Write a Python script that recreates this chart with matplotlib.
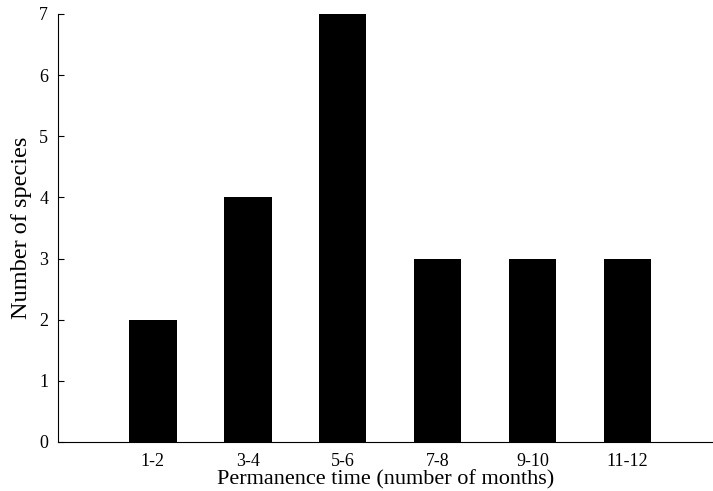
import matplotlib
matplotlib.use('Agg')
import matplotlib.pyplot as plt
import numpy as np

plt.rcParams['font.family'] = ['Liberation Serif', 'DejaVu Serif']

# permanence classes and species counts
labels = ['1-2', '3-4', '5-6', '7-8', '9-10', '11-12']
counts = [2, 4, 7, 3, 3, 3]

fig = plt.figure(figsize=(7.13, 4.91), dpi=100)
ax = fig.add_axes([0.0813, 0.0998, 0.9187, 0.8717])

ind = np.arange(1, len(counts) + 1)
width = 0.5
ax.bar(ind, counts, width, color='black')

ax.set_xlim(0, 6.9)
ax.set_ylim(0, 7)
ax.set_xticks(ind)
ax.set_xticklabels(labels)
ax.set_yticks(range(0, 8))
ax.tick_params(axis='y', direction='in', length=4, labelsize=13, pad=7)
ax.tick_params(axis='x', length=0, labelsize=13, pad=8)

ax.spines['top'].set_visible(False)
ax.spines['right'].set_visible(False)

ax.set_xlabel('Permanence time (number of months)', fontsize=16, labelpad=0)
ax.set_ylabel('Number of species', fontsize=17.5, labelpad=5)

fig.savefig('out.png', dpi=100)
